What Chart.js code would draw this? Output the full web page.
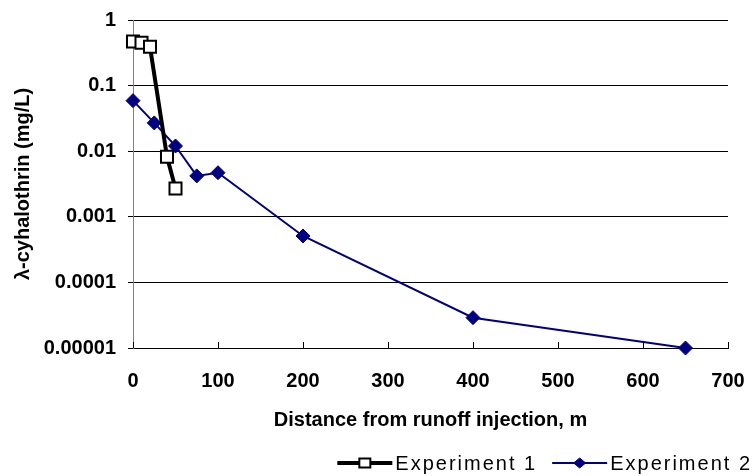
<!DOCTYPE html>
<html>
<head>
<meta charset="utf-8">
<title>lambda-cyhalothrin vs distance</title>
<script src="https://cdn.jsdelivr.net/npm/chart.js"></script>
<style>
  body { margin: 0; background: #fff; }
  #wrap { width: 753px; height: 476px; position: relative; }
</style>
</head>
<body>
<div id="wrap"><canvas id="chart"></canvas></div>
<script>
// data
const exp1Distance = [0, 10, 20, 40, 50];
const exp1Conc = [0.47, 0.45, 0.39, 0.0082, 0.0027];
const exp2Distance = [0, 25, 50, 75, 100, 200, 400, 650];
const exp2Conc = [0.059, 0.027, 0.012, 0.0042, 0.0047, 0.00051, 0.000029, 0.00001];

const seriesNames = ["Experiment 1", "Experiment 2"];
const yTickValues = [0.00001, 0.0001, 0.001, 0.01, 0.1, 1];
const yTickLabels = ["0.00001", "0.0001", "0.001", "0.01", "0.1", "1"];
const xTitle = "Distance from runoff injection, m";
const yTitle = "λ-cyhalothrin (mg/L)";

const FONT = "'Liberation Sans', Arial, sans-serif";

function toPoints(xs, ys) {
    return xs.map(function (x, i) { return { x: x, y: ys[i] }; });
}

// small tick marks on the x axis, pointing up into the plot
const xTickMarks = {
    id: "xTickMarks",
    afterDatasetsDraw: function (chart) {
        const ctx = chart.ctx;
        const xs = chart.scales.x;
        const bottom = chart.chartArea.bottom;
        ctx.save();
        ctx.strokeStyle = "#000";
        ctx.lineWidth = 1;
        xs.ticks.forEach(function (t) {
            const px = Math.round(xs.getPixelForValue(t.value)) + 0.5;
            ctx.beginPath();
            ctx.moveTo(px, bottom);
            ctx.lineTo(px, bottom - 6);
            ctx.stroke();
        });
        ctx.restore();
    }
};

// legend with line + marker, bottom right like the original
const lineLegend = {
    id: "lineLegend",
    afterDraw: function (chart) {
        const ctx = chart.ctx;
        const y = 463;
        const lineLen = 55;
        const gap = 3;
        const itemGap = 15;
        ctx.save();
        ctx.font = "20px " + FONT;
        if ("letterSpacing" in ctx) ctx.letterSpacing = "2px";
        ctx.textBaseline = "middle";
        const widths = chart.data.datasets.map(function (ds) { return ctx.measureText(ds.label).width; });
        let total = 0;
        widths.forEach(function (w, i) { total += lineLen + gap + w + (i ? itemGap : 0); });
        let x = 752 - total;
        chart.data.datasets.forEach(function (ds, i) {
            if (i) x += itemGap;
            ctx.strokeStyle = ds.borderColor;
            ctx.lineWidth = ds.borderWidth;
            ctx.beginPath();
            ctx.moveTo(x, y);
            ctx.lineTo(x + lineLen, y);
            ctx.stroke();
            const cx = x + lineLen / 2;
            ctx.lineWidth = ds.pointBorderWidth;
            ctx.fillStyle = ds.pointBackgroundColor;
            ctx.strokeStyle = ds.pointBorderColor;
            ctx.beginPath();
            if (ds.pointStyle === "rect") {
                ctx.rect(cx - 5.5, y - 4.5, 11, 9);
            } else {
                ctx.moveTo(cx - 6, y);
                ctx.lineTo(cx, y - 5);
                ctx.lineTo(cx + 6, y);
                ctx.lineTo(cx, y + 5);
                ctx.closePath();
            }
            ctx.fill();
            ctx.stroke();
            ctx.fillStyle = "#000";
            ctx.fillText(ds.label, x + lineLen + gap, y + 1);
            x += lineLen + gap + widths[i];
        });
        ctx.restore();
    }
};

new Chart(document.getElementById("chart"), {
    type: "scatter",
    data: {
        datasets: [{
            label: seriesNames[0],
            data: toPoints(exp1Distance, exp1Conc),
            showLine: true,
            clip: false,
            borderColor: "#000",
            borderWidth: 4,
            pointStyle: "rect",
            pointRadius: 8.5,
            pointHoverRadius: 8.5,
            pointBackgroundColor: "#fff",
            pointBorderColor: "#000",
            pointBorderWidth: 2
        }, {
            label: seriesNames[1],
            data: toPoints(exp2Distance, exp2Conc),
            showLine: true,
            clip: false,
            borderColor: "#000080",
            borderWidth: 2,
            pointStyle: "rectRot",
            pointRadius: 7,
            pointHoverRadius: 7,
            pointBackgroundColor: "#000080",
            pointBorderColor: "#000080",
            pointBorderWidth: 1
        }]
    },
    options: {
        responsive: true,
        maintainAspectRatio: false,
        animation: false,
        layout: { padding: { left: 0, right: 25, top: 20, bottom: 44 } },
        plugins: {
            legend: { display: false },
            tooltip: { enabled: false }
        },
        scales: {
            x: {
                type: "linear",
                min: 0,
                max: 700,
                ticks: {
                    stepSize: 100,
                    padding: 13,
                    color: "#000",
                    font: { family: FONT, size: 20, weight: "bold" },
                    maxRotation: 0
                },
                grid: { display: false },
                border: { color: "#000", width: 1 },
                title: {
                    display: true,
                    text: xTitle,
                    color: "#000",
                    font: { family: FONT, size: 20, weight: "bold" },
                    padding: { top: 0, bottom: 0 }
                },
                afterFit: function (s) {
                    s.height = 84;
                    s.paddingLeft = 0;
                    s.paddingRight = 0;
                }
            },
            y: {
                type: "logarithmic",
                min: 0.00001,
                max: 1,
                afterBuildTicks: function (s) {
                    s.ticks = yTickValues.map(function (v) { return { value: v }; });
                },
                ticks: {
                    padding: 12,
                    color: "#000",
                    font: { family: FONT, size: 20, weight: "bold" },
                    callback: function (v) {
                        const i = yTickValues.indexOf(v);
                        return i >= 0 ? yTickLabels[i] : "";
                    }
                },
                grid: { color: "#000", lineWidth: 1, tickLength: 5 },
                border: { color: "#808080", width: 1 },
                title: {
                    display: true,
                    text: yTitle,
                    color: "#000",
                    font: { family: FONT, size: 20, weight: "bold" },
                    padding: { top: 11, bottom: 0 }
                },
                afterFit: function (s) {
                    s.width = 133;
                    s.paddingTop = 0;
                    s.paddingBottom = 0;
                }
            }
        }
    },
    plugins: [xTickMarks, lineLegend]
});
</script>
</body>
</html>
